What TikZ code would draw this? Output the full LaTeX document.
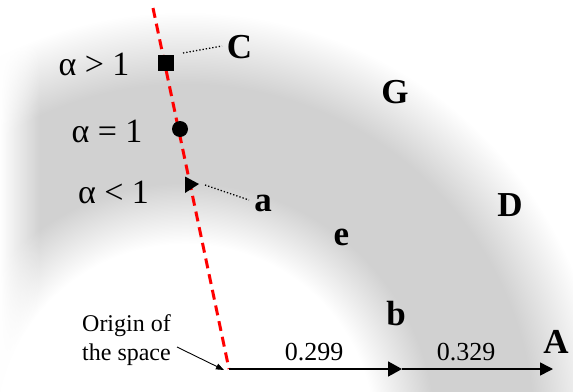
\documentclass[tikz,border=0pt]{standalone}
\usepackage{fontspec}
\setmainfont{Liberation Serif}
\usetikzlibrary{arrows.meta,fadings}
\definecolor{bandgray}{gray}{0.82}
\pgfdeclareradialshading{ringshade}{\pgfpoint{0bp}{0bp}}{color(0bp)=(white); color(10.5bp)=(white); color(13.9bp)=(bandgray); color(19.4bp)=(bandgray); color(23.4bp)=(white); color(25bp)=(white); color(50bp)=(white)}
\tikzfading[name=leftfade, left color=transparent!0, right color=transparent!100]
\tikzset{
  alphalab/.style={inner sep=0pt, font=\fontsize{34}{40}\selectfont},
  boldlab/.style={inner sep=0pt, font=\fontsize{35}{40}\selectfont\bfseries},
  numlab/.style={inner sep=0pt, font=\fontsize{26}{30}\selectfont},
  reddash/.style={red, line width=3pt, dash pattern=on 10pt off 6pt},
  dotcon/.style={black, line width=1.3pt, dotted},
  axisarrow/.style={black, line width=1.8pt, -{Triangle[length=14pt,width=15pt]}},
  marker/.style={fill=black, inner sep=0pt, minimum size=16pt}
}
\begin{document}
\begin{tikzpicture}[x=1pt,y=-1pt]
\useasboundingbox (0,0) rectangle (573,391);
\begin{scope}
  \clip (0,0) rectangle (573,391);
  \shade[shading=ringshade] (185,433) circle (450pt);
  \fill[white, path fading=leftfade] (0,0) rectangle (40,391);
\end{scope}

% red dashed line
\coordinate (top) at (153,8);
\coordinate (O) at (229,369);
\draw[reddash] (top) -- (O);

% markers
\node[marker, rectangle] (sq) at (166,63) {};
\node[marker, circle] (dot) at (180,129) {};
\coordinate (tri) at (199,184);
\fill (185,176.5) -- (tri) -- (185,193) -- cycle;

% alpha labels
\node[alphalab] (ag) at (94,64) {α > 1};
\node[alphalab] (ae) at (107,131) {α = 1};
\node[alphalab] (al) at (113.5,192.5) {α < 1};

% bold labels
\node[boldlab] (C) at (239.5,47.5) {C};
\node[boldlab] (a) at (263,203) {a};
\node[boldlab] (G) at (395,92.5) {G};
\node[boldlab] (D) at (510,205.5) {D};
\node[boldlab] (e) at (341.5,237) {e};
\node[boldlab] (b) at (396,313.5) {b};
\node[boldlab] (A) at (556,342) {A};

% dotted connectors
\coordinate (c1) at (183,53);
\coordinate (c2) at (222,46);
\draw[dotcon] (c1) -- (c2);
\coordinate (a1) at (205,185);
\coordinate (a2) at (249,200);
\draw[dotcon] (a1) -- (a2);

% axis arrows
\coordinate (mid) at (402,369);
\coordinate (Aend) at (553,369);
\draw[axisarrow] (O) -- (mid);
\draw[black, line width=1.5pt, -{Triangle[length=13pt,width=13pt]}] (mid) -- (Aend);
\node[numlab] (n1) at (314,352) {0.299};
\node[numlab] (n2) at (466,352) {0.329};

% origin label
\node[inner sep=0pt, align=left, font=\fontsize{24}{29}\selectfont] (orig) at (126.5,340) {Origin of\\the space};
\coordinate (o1) at (177,347);
\coordinate (o2) at (224,370);
\draw[black, line width=0.9pt, -{Triangle[length=8pt,width=6pt]}] (o1) -- (o2);
\end{tikzpicture}
\end{document}
